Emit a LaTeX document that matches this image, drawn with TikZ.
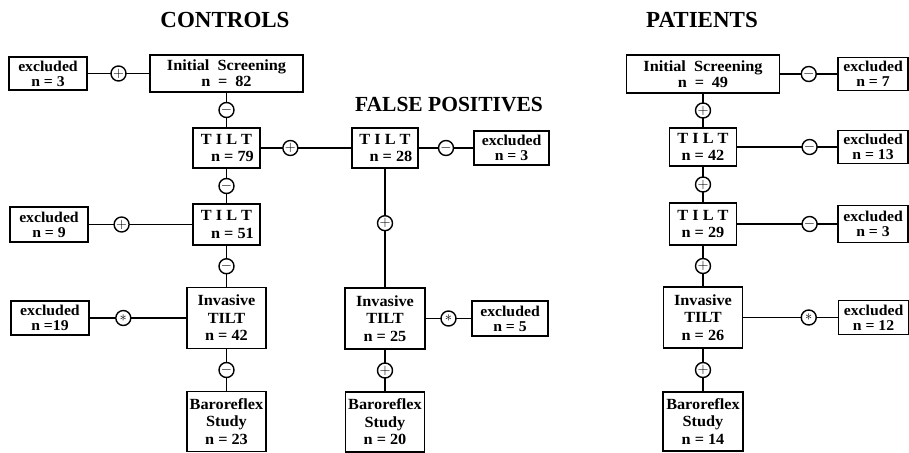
\documentclass[tikz,border=0pt]{standalone}
\usepackage{fontspec}
\setmainfont{Liberation Serif}
\newfontfamily\boxfont[FakeStretch=1.05]{Liberation Serif}
\usetikzlibrary{positioning}

\tikzset{
    box/.style={draw, line width=1.5pt, align=center, inner sep=0pt, outer sep=0pt, font=\boxfont\bfseries\fontsize{15.5}{17.5}\selectfont},
    exclbox/.style={box, minimum width=78pt, minimum height=34pt, font=\boxfont\bfseries\fontsize{15}{15}\selectfont},
    screenbox/.style={box, minimum width=153pt, minimum height=37pt, font=\boxfont\bfseries\fontsize{15.5}{16}\selectfont},
    tiltbox/.style={box, minimum width=67pt, minimum height=40pt},
    invbox/.style={box, minimum width=79pt, minimum height=61pt},
    barobox/.style={box, minimum width=79pt, minimum height=60pt},
    conn/.style={line width=1.5pt},
    gate/.style={circle, draw, line width=1.4pt, fill=white, minimum size=15pt, inner sep=0pt, font=\bfseries\fontsize{14}{14}\selectfont},
    grouptitle/.style={font=\bfseries\fontsize{23}{23}\selectfont}
}

\begin{document}
\begin{tikzpicture}[x=1pt, y=-1pt]
        \useasboundingbox (0,0) rectangle (909,452);

        %%% Titles
            \node[grouptitle] (ctrlTitle) at (225,20) {CONTROLS};
            \node[grouptitle] (patTitle) at (702,20) {PATIENTS};
            \node[grouptitle, font=\bfseries\fontsize{21.5}{21.5}\selectfont] (fpTitle) at (449,105) {FALSE POSITIVES};

        %%% Controls
            % Main column
            \node[screenbox] (ctrlScreen) at (226.5,73.5) {Initial~~Screening\\n\enspace=\enspace82};
            \node[tiltbox, below=36pt of ctrlScreen] (ctrlTilt1) {T I L T\\\hspace*{12pt}n = 79};
            \node[tiltbox, minimum height=41pt, below=36pt of ctrlTilt1] (ctrlTilt2) {T I L T\\\hspace*{12pt}n = 51};
            \node[invbox, below=42.5pt of ctrlTilt2] (ctrlInv) {Invasive\\TILT\\n = 42};
            \node[barobox, below=43pt of ctrlInv] (ctrlBaro) {Baroreflex\\Study\\n = 23};

            % Excluded boxes on the left
            \node[exclbox, minimum height=33pt, left=63pt of ctrlScreen] (ctrlExcl1) {excluded\\n = 3};
            \node[exclbox, minimum height=35pt, left=105pt of ctrlTilt2] (ctrlExcl2) {excluded\\n = 9};
            \node[exclbox, left=98pt of ctrlInv] (ctrlExcl3) {excluded\\n =19};

            % Connectors
            \draw[conn] (ctrlExcl1) -- node[gate] {$+$} (ctrlScreen);
            \draw[conn] (ctrlScreen) -- node[gate] {$-$} (ctrlTilt1);
            \draw[conn] (ctrlTilt1) -- node[gate] {$-$} (ctrlTilt2);
            \draw[conn] (ctrlExcl2) -- node[gate, pos=0.32] {$+$} (ctrlTilt2);
            \draw[conn] (ctrlTilt2) -- node[gate] {$-$} (ctrlInv);
            \draw[conn] (ctrlExcl3) -- node[gate, pos=0.35] {$\ast$} (ctrlInv);
            \draw[conn] (ctrlInv) -- node[gate] {$-$} (ctrlBaro);

        %%% False positives
            \node[tiltbox, minimum width=66pt, right=92pt of ctrlTilt1] (fpTilt) {T I L T\\\hspace*{12pt}n = 28};
            \node[exclbox, minimum width=75pt, right=56pt of fpTilt] (fpExcl1) {excluded\\n = 3};
            \node[invbox, minimum width=80pt, below=120pt of fpTilt] (fpInv) {Invasive\\TILT\\n = 25};
            \node[exclbox, minimum width=76pt, minimum height=35pt, right=47pt of fpInv] (fpExcl2) {excluded\\n = 5};
            \node[barobox, below=43pt of fpInv] (fpBaro) {Baroreflex\\Study\\n = 20};

            % Connectors
            \draw[conn] (ctrlTilt1) -- node[gate, pos=0.33] {$+$} (fpTilt);
            \draw[conn] (fpTilt) -- node[gate] {$-$} (fpExcl1);
            \draw[conn] (fpTilt) -- node[gate, pos=0.46] {$+$} (fpInv);
            \draw[conn] (fpInv) -- node[gate] {$\ast$} (fpExcl2);
            \draw[conn] (fpInv) -- node[gate] {$+$} (fpBaro);

        %%% Patients
            % Main column
            \node[screenbox, minimum height=38pt] (patScreen) at (703,74) {Initial~~Screening\\n\enspace=\enspace49};
            \node[tiltbox, minimum height=38pt, below=35pt of patScreen] (patTilt1) {T I L T\\n = 42};
            \node[tiltbox, minimum height=42pt, below=37pt of patTilt1] (patTilt2) {T I L T\\n = 29};
            \node[invbox, below=42pt of patTilt2] (patInv) {Invasive\\TILT\\n = 26};
            \node[barobox, minimum width=80pt, minimum height=59pt, below=44pt of patInv] (patBaro) {Baroreflex\\Study\\n = 14};

            % Excluded boxes on the right
            \node[exclbox, minimum width=70pt, minimum height=33pt, right=58.5pt of patScreen] (patExcl1) {excluded\\n = 7};
            \node[exclbox, minimum width=70pt, minimum height=33pt, right=101.5pt of patTilt1] (patExcl2) {excluded\\n = 13};
            \node[exclbox, minimum width=70pt, minimum height=37pt, right=101.5pt of patTilt2] (patExcl3) {excluded\\n = 3};
            \node[exclbox, minimum width=70pt, right=96pt of patInv] (patExcl4) {excluded\\n = 12};

            % Connectors
            \draw[conn] (patScreen) -- node[gate] {$-$} (patExcl1);
            \draw[conn] (patScreen) -- node[gate] {$+$} (patTilt1);
            \draw[conn] (patTilt1) -- node[gate, pos=0.72] {$-$} (patExcl2);
            \draw[conn] (patTilt1) -- node[gate] {$+$} (patTilt2);
            \draw[conn] (patTilt2) -- node[gate, pos=0.72] {$-$} (patExcl3);
            \draw[conn] (patTilt2) -- node[gate] {$+$} (patInv);
            \draw[conn] (patInv) -- node[gate, pos=0.69] {$\ast$} (patExcl4);
            \draw[conn] (patInv) -- node[gate] {$+$} (patBaro);
\end{tikzpicture}
\end{document}
